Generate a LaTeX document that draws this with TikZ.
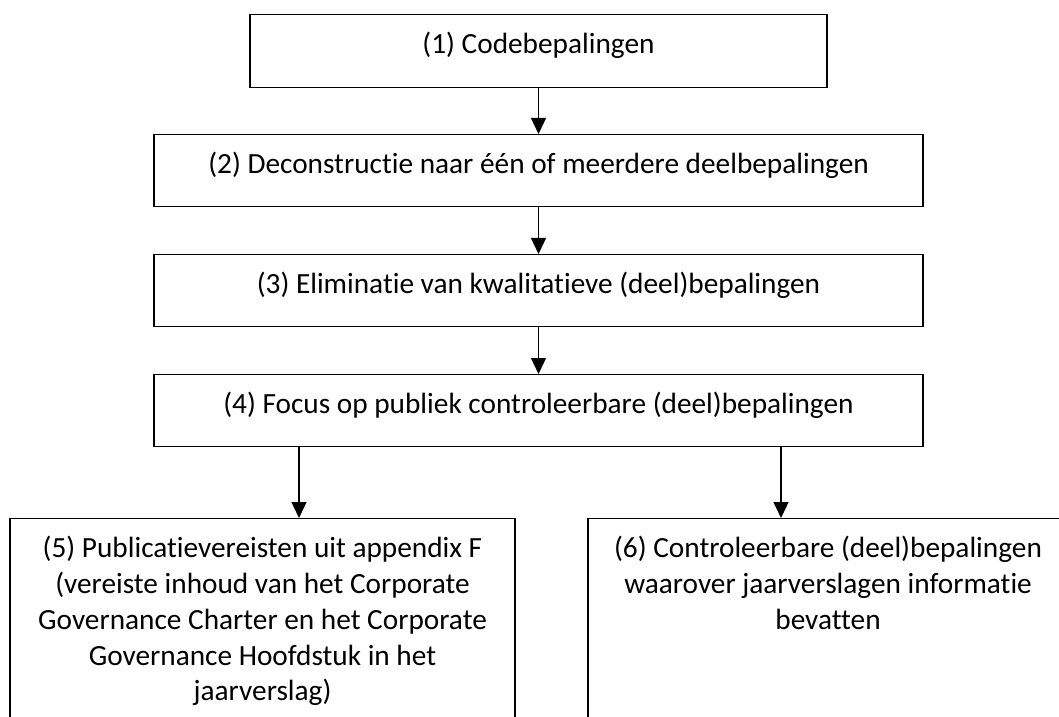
\documentclass[tikz,border=0pt]{standalone}
\usepackage{fontspec}
\setmainfont{Carlito}[Ligatures=NoCommon]
\usetikzlibrary{arrows.meta}
\tikzset{%
  >={Triangle[width=15pt,length=16pt]}, % filled arrow heads
  stepbox/.style={draw, line width=1.3pt, anchor=north, inner xsep=0pt,
    inner ysep=0pt, align=flush center, text width=#1, text height=39pt,
    text depth=33pt, font=\fontsize{29.3}{35.8}\selectfont},%
  flow/.style={->, line width=1.3pt}%
}

\begin{document}
\begin{tikzpicture}[x=1pt,y=1pt] % Codebepalingen flow

    \useasboundingbox (0,0) rectangle (1059,716);
    \clip (0,0) rectangle (1059,716);

    \def\xmid{538.5} % centre line of the column
    \def\wide{769} % width of steps 2 to 4

    \node[stepbox=577, text depth=34pt] (codes) at (\xmid,702)
        {(1) Codebepalingen};
    \node[stepbox=\wide] (decon) at (\xmid,582)
        {(2) Deconstructie naar één of meerdere deelbepalingen};
    \node[stepbox=\wide] (elim) at (\xmid,462)
        {(3) Eliminatie van kwalitatieve (deel)bepalingen};
    \node[stepbox=\wide] (focus) at (\xmid,342)
        {(4) Focus op publiek controleerbare (deel)bepalingen};

    % the two bottom boxes run off the page
    \node[stepbox=505, text depth=300pt] (publ) at (262.5,198)
        {(5) Publicatievereisten uit appendix F\\
         (vereiste inhoud van het Corporate\\
         Governance Charter en het Corporate\\
         Governance Hoofdstuk in het\\
         jaarverslag)};
    \node[stepbox=480, text depth=300pt] (contr) at (828,198)
        {(6) Controleerbare (deel)bepalingen\\
         waarover jaarverslagen informatie\\
         bevatten};

    \draw[flow] (codes) -- (decon);
    \draw[flow] (decon) -- (elim);
    \draw[flow] (elim) -- (focus);
    \draw[flow] (focus.south -| 299,0) -- (publ.north -| 299,0);
    \draw[flow] (focus.south -| 781,0) -- (contr.north -| 781,0);

\end{tikzpicture}
\end{document}
